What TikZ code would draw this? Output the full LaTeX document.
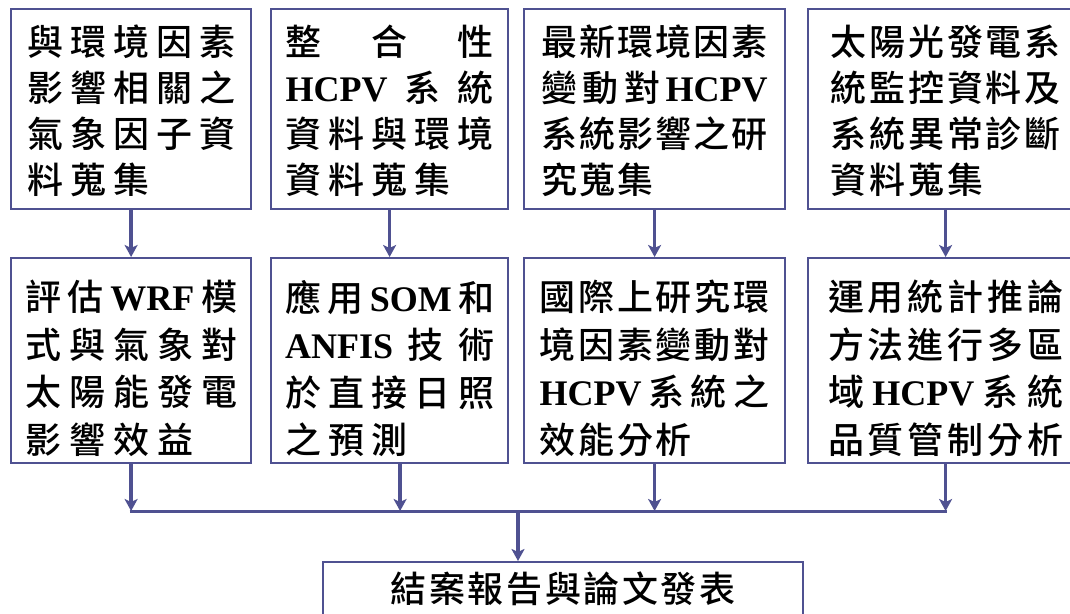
\documentclass[tikz,border=0pt]{standalone}
\usepackage{fontspec}
\setmainfont{Noto Sans CJK TC Medium}
\newfontfamily\latinf{Liberation Serif}
\usetikzlibrary{arrows.meta}
\definecolor{linec}{RGB}{79,81,145}
\newlength\boxtw
\newcommand\lw[1]{{\latinf\bfseries #1}}
\newcommand\btext[5]{\parbox[c][#2pt][t]{#1pt}{\setlength\boxtw{#1pt}\fontsize{36pt}{#4pt}\selectfont\vspace*{#3pt}#5}}
\newcommand\jl[1]{\makebox[\boxtw][s]{#1}\par}
\newcommand\ph{\hfill\phantom{國}}
\tikzset{
  box/.style={draw=linec, line width=2.2pt, rectangle, inner sep=0pt, anchor=north west, fill=white},
  arr/.style={draw=linec, line width=3.5pt, -{Stealth[length=12pt,width=13pt,inset=3pt]}},
  hline/.style={draw=linec, line width=3pt}
}
\begin{document}
\begin{tikzpicture}[x=1pt,y=1pt]
\useasboundingbox (0,0) rectangle (1070,-613);
\clip (0,0) rectangle (1070,-613);
\fill[white] (0,0) rectangle (1070,-613);
% row 1
\node[box, minimum width=240, minimum height=200] (a1) at (10,-8)
 {\btext{208}{200}{16}{46}{\jl{與\hfill 環\hfill 境\hfill 因\hfill 素}\jl{影\hfill 響\hfill 相\hfill 關\hfill 之}\jl{氣\hfill 象\hfill 因\hfill 子\hfill 資}\jl{料\hfill 蒐\hfill 集\ph\ph}}};
\node[box, minimum width=237, minimum height=200] (a2) at (270,-8)
 {\btext{208}{200}{16}{46}{\jl{整\hfill 合\hfill 性}\jl{\lw{HCPV}\hfill 系\hfill 統}\jl{資\hfill 料\hfill 與\hfill 環\hfill 境}\jl{資\hfill 料\hfill 蒐\hfill 集\ph}}};
\node[box, minimum width=261, minimum height=200] (a3) at (523,-8)
 {\btext{226}{200}{16}{46}{\jl{最\hfill 新\hfill 環\hfill 境\hfill 因\hfill 素}\jl{變\hfill 動\hfill 對\hfill\lw{HCPV}}\jl{系\hfill 統\hfill 影\hfill 響\hfill 之\hfill 研}\jl{究\hfill 蒐\hfill 集\ph\ph\ph}}};
\node[box, minimum width=275, minimum height=200] (a4) at (807,-8)
 {\btext{230}{200}{16}{46}{\jl{太\hfill 陽\hfill 光\hfill 發\hfill 電\hfill 系}\jl{統\hfill 監\hfill 控\hfill 資\hfill 料\hfill 及}\jl{系\hfill 統\hfill 異\hfill 常\hfill 診\hfill 斷}\jl{資\hfill 料\hfill 蒐\hfill 集\ph\ph}}};
% row 2
\node[box, minimum width=240, minimum height=205] (b1) at (10,-257)
 {\btext{212}{205}{22}{47.5}{\jl{評\hfill 估\hfill\lw{WRF}\hfill 模}\jl{式\hfill 與\hfill 氣\hfill 象\hfill 對}\jl{太\hfill 陽\hfill 能\hfill 發\hfill 電}\jl{影\hfill 響\hfill 效\hfill 益\ph}}};
\node[box, minimum width=237, minimum height=205] (b2) at (270,-257)
 {\btext{209}{205}{22}{47.5}{\jl{應\hfill 用\hfill\lw{SOM}\hfill 和}\jl{\lw{ANFIS}\hfill 技\hfill 術}\jl{於\hfill 直\hfill 接\hfill 日\hfill 照}\jl{之\hfill 預\hfill 測\ph\ph}}};
\node[box, minimum width=261, minimum height=205] (b3) at (523,-257)
 {\btext{230}{205}{22}{47.5}{\jl{國\hfill 際\hfill 上\hfill 研\hfill 究\hfill 環}\jl{境\hfill 因\hfill 素\hfill 變\hfill 動\hfill 對}\jl{\lw{HCPV}\hfill 系\hfill 統\hfill 之}\jl{效\hfill 能\hfill 分\hfill 析\ph\ph}}};
\node[box, minimum width=275, minimum height=205] (b4) at (807,-257)
 {\btext{235}{205}{22}{47.5}{\jl{運\hfill 用\hfill 統\hfill 計\hfill 推\hfill 論}\jl{方\hfill 法\hfill 進\hfill 行\hfill 多\hfill 區}\jl{域\hfill\lw{HCPV}\hfill 系\hfill 統}\jl{品\hfill 質\hfill 管\hfill 制\hfill 分\hfill 析}}};
% final
\node[box, minimum width=480, minimum height=70] (f) at (322,-561)
 {\btext{345}{70}{10}{46}{\jl{結\hfill 案\hfill 報\hfill 告\hfill 與\hfill 論\hfill 文\hfill 發\hfill 表}}};
% connectors
\draw[arr] (a1.south) -- (b1.north);
\draw[arr] (a2.south) -- (b2.north);
\draw[arr] (a3.south) -- (b3.north);
\draw[arr] (a4.south) -- (b4.north);
\coordinate (hl) at (0,-511);
\coordinate (b2o) at ([xshift=10.5pt]b2.south);
\coordinate (j1) at (b1.south |- hl);
\coordinate (j2) at (b2o |- hl);
\coordinate (j3) at (b3.south |- hl);
\coordinate (j4) at (b4.south |- hl);
\coordinate (jm) at (518,-511);
\draw[hline] ([xshift=-1.5pt]j1) -- ([xshift=1.5pt]j4);
\draw[arr] (b1.south) -- (j1);
\draw[arr] (b2o) -- (j2);
\draw[arr] (b3.south) -- (j3);
\draw[arr] (b4.south) -- (j4);
\draw[arr] (jm) -- (jm |- f.north);
\end{tikzpicture}
\end{document}
